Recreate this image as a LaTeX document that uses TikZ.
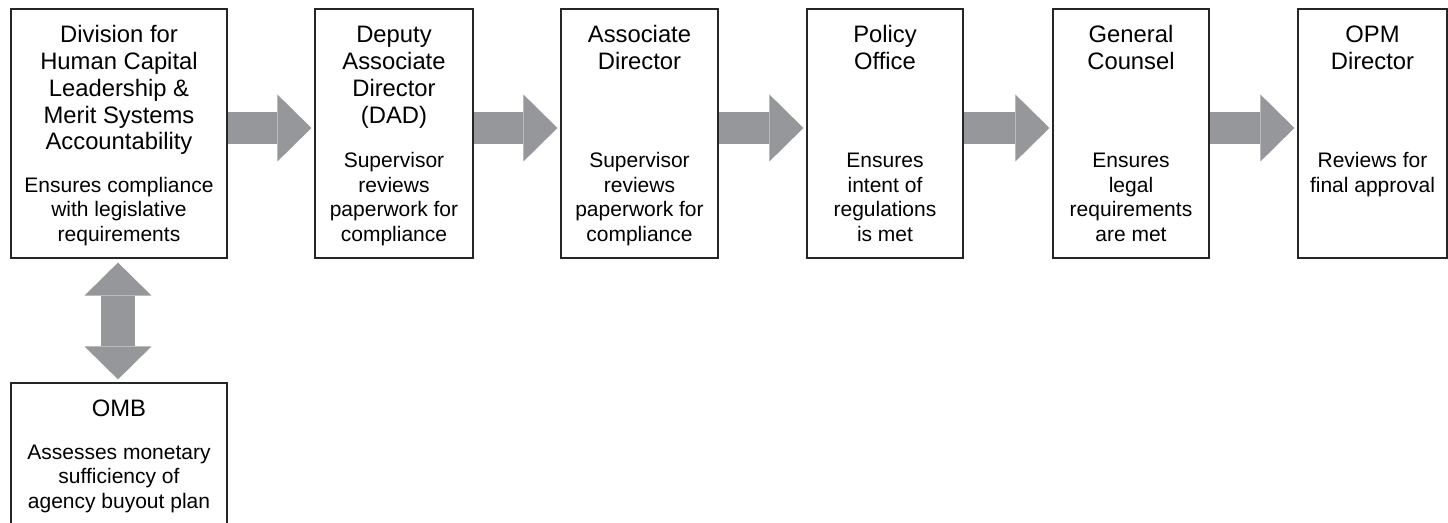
\documentclass[tikz,border=0pt]{standalone}
\usepackage{fontspec}
\setmainfont{Liberation Sans}
\usetikzlibrary{arrows.meta}

\definecolor{arrowgray}{RGB}{150,151,155}
\newcommand{\steptext}[4]{\parbox[t][#2][t]{#1}{\centering
  \fontsize{11.9}{13.35}\selectfont\rule{0pt}{17pt}#3\par\vfill
  \fontsize{10.5}{12.25}\selectfont #4\strut\par\vspace{4.8pt}}}

\begin{document}
\begin{tikzpicture}[x=0.5pt,y=-0.5pt,
    stepbox/.style={draw=black!85, line width=0.6pt, inner sep=0pt, fill=white},
    flowarrow/.style={draw=arrowgray, line width=16pt,
        -{Triangle[length=17pt,width=33.5pt,line width=0pt]}, shorten >=1.5pt},
    bothway/.style={draw=arrowgray, line width=17pt,
        {Triangle[length=16.5pt,width=33.5pt,line width=0pt]}-{Triangle[length=16.5pt,width=33.5pt,line width=0pt]},
        shorten <=2pt, shorten >=1.5pt}]
            \useasboundingbox (0,0) rectangle (1448,523);

            \node[stepbox] (div) at (119,133.5) {\steptext{108pt}{124.5pt}
                {Division for\\Human Capital\\Leadership \&\\Merit Systems\\Accountability}
                {Ensures compliance\\with legislative\\requirements}};
            \node[stepbox] (dad) at (394,133.5) {\steptext{79pt}{124.5pt}
                {Deputy\\Associate\\Director\\(DAD)}
                {Supervisor\\reviews\\paperwork for\\compliance}};
            \node[stepbox] (assoc) at (639.5,133.5) {\steptext{78.5pt}{124.5pt}
                {Associate\\Director}
                {Supervisor\\reviews\\paperwork for\\compliance}};
            \node[stepbox] (policy) at (885,133.5) {\steptext{78pt}{124.5pt}
                {Policy\\Office}
                {Ensures\\intent of\\regulations\\is met}};
            \node[stepbox] (counsel) at (1131,133.5) {\steptext{78pt}{124.5pt}
                {General\\Counsel}
                {Ensures\\legal\\requirements\\are met}};
            \node[stepbox] (opm) at (1372.5,133.5) {\steptext{74.5pt}{124.5pt}
                {OPM\\Director}
                {Reviews for\\final approval\\~\\}};
            \node[stepbox] (omb) at (119,454) {\steptext{108pt}{71pt}
                {OMB}
                {Assesses monetary\\sufficiency of\\agency buyout plan}};

            \draw[flowarrow] ([yshift=2.75pt]div.east) -- ([yshift=2.75pt]dad.west);
            \draw[flowarrow] ([yshift=2.75pt]dad.east) -- ([yshift=2.75pt]assoc.west);
            \draw[flowarrow] ([yshift=2.75pt]assoc.east) -- ([yshift=2.75pt]policy.west);
            \draw[flowarrow] ([yshift=2.75pt]policy.east) -- ([yshift=2.75pt]counsel.west);
            \draw[flowarrow] ([yshift=2.75pt]counsel.east) -- ([yshift=2.75pt]opm.west);
            \draw[bothway] ([xshift=-0.5pt]div.south) -- ([xshift=-0.5pt]omb.north);
\end{tikzpicture}
\end{document}
